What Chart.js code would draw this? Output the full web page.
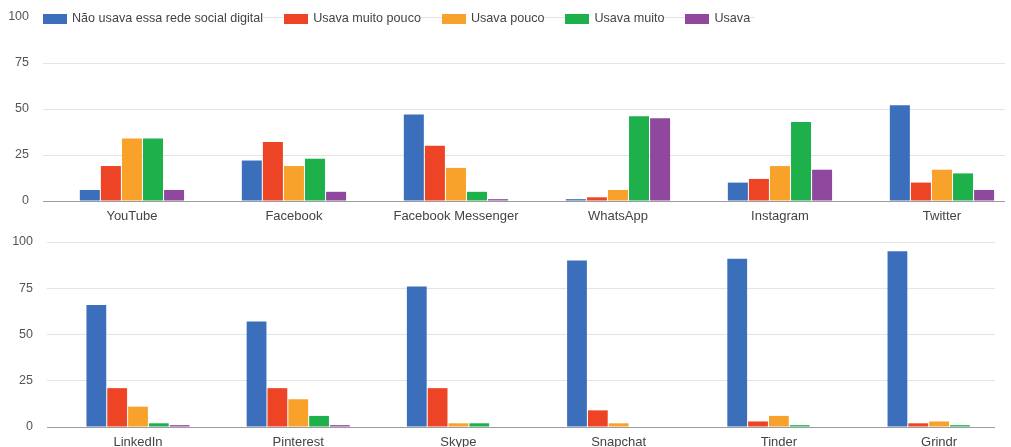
<!DOCTYPE html>
<html lang="pt">

<head>
    <meta charset="UTF-8">
    <title>Uso de redes sociais</title>
    <script src="https://cdn.jsdelivr.net/npm/chart.js"></script>
    <style>
        html, body { margin: 0; padding: 0; background: #fff; overflow: hidden; }
        body { width: 1011px; height: 447px; position: relative; font-family: "Liberation Sans", Arial, sans-serif; }
        .painel { position: absolute; left: 0; width: 1011px; }
        #painelTopo { top: 0; height: 228px; }
        #painelBaixo { top: 228px; height: 219px; }
        #legenda {
            position: absolute; left: 43px; top: 13px; height: 11px;
            display: flex; gap: 21px; padding-right: 5px;
            background: linear-gradient(#e4e4e4, #e4e4e4) no-repeat 0 4px / 100% 1px;
            font-size: 12.6px; color: #444; line-height: 11px;
        }
        #legenda .item { display: flex; align-items: center; background: #fff; white-space: nowrap; }
        #legenda .cor { width: 24px; height: 10px; margin-right: 5px; }
    </style>
</head>

<body>
    <div class="painel" id="painelTopo"><canvas id="graficoTopo"></canvas></div>
    <div class="painel" id="painelBaixo"><canvas id="graficoBaixo"></canvas></div>
    <div id="legenda"></div>

    <script>
        // dados
        const categoriasTopo = ['YouTube', 'Facebook', 'Facebook Messenger', 'WhatsApp', 'Instagram', 'Twitter']
        const categoriasBaixo = ['LinkedIn', 'Pinterest', 'Skype', 'Snapchat', 'Tinder', 'Grindr']
        const series = ['Não usava essa rede social digital', 'Usava muito pouco', 'Usava pouco', 'Usava muito', 'Usava']
        const cores = ['#3b6fbb', '#ec4424', '#f8a22c', '#1eb04b', '#8f489d']

        const naoUsavaTopo = [6, 22, 47, 1, 10, 52]
        const muitoPoucoTopo = [19, 32, 30, 2, 12, 10]
        const poucoTopo = [34, 19, 18, 6, 19, 17]
        const muitoTopo = [34, 23, 5, 46, 43, 15]
        const usavaTopo = [6, 5, 1, 45, 17, 6]

        const naoUsavaBaixo = [66, 57, 76, 90, 91, 95]
        const muitoPoucoBaixo = [21, 21, 21, 9, 3, 2]
        const poucoBaixo = [11, 15, 2, 2, 6, 3]
        const muitoBaixo = [2, 6, 2, 0, 1, 1]
        const usavaBaixo = [1, 1, 0, 0, 0, 0]

        const ticksY = [0, 25, 50, 75, 100]

        Chart.defaults.font.family = '"Liberation Sans", Arial, sans-serif'
        Chart.defaults.font.size = 12
        Chart.defaults.color = '#444'

        const legenda = document.getElementById('legenda')
        series.forEach((nome, i) => {
            const item = document.createElement('div')
            item.className = 'item'
            item.innerHTML = '<span class="cor" style="background:' + cores[i] + '"></span><span>' + nome + '</span>'
            legenda.appendChild(item)
        })

        const montar = (id, categorias, valores, cfg) => {
            const datasets = valores.map((serie, s) => ({
                label: series[s],
                data: serie.map((v, i) => ({ x: i, y: v })),
                backgroundColor: cores[s],
                categoryPercentage: 0.65,
                barPercentage: 0.95
            }))
            return new Chart(document.getElementById(id), {
                type: 'bar',
                data: { datasets: datasets },
                options: {
                    responsive: true,
                    maintainAspectRatio: false,
                    animation: false,
                    layout: { padding: { top: cfg.topo, right: cfg.direita, left: 0, bottom: 0 } },
                    plugins: { legend: { display: false }, tooltip: { enabled: false } },
                    scales: {
                        x: {
                            type: 'linear',
                            offset: false,
                            min: cfg.minX,
                            max: cfg.maxX,
                            grid: { display: false, offset: false },
                            border: { display: false },
                            afterBuildTicks: (eixo) => { eixo.ticks = categorias.map((c, i) => ({ value: i })) },
                            afterFit: (eixo) => { eixo.height = cfg.alturaX },
                            ticks: {
                                autoSkip: false, maxRotation: 0, padding: cfg.padX,
                                font: { size: 13 },
                                callback: (v) => categorias[v]
                            }
                        },
                        y: {
                            min: 0,
                            max: 100,
                            afterBuildTicks: (eixo) => { eixo.ticks = ticksY.map(v => ({ value: v })) },
                            afterFit: (eixo) => { eixo.width = cfg.larguraY },
                            border: { display: false },
                            grid: {
                                drawTicks: true,
                                tickLength: 14,
                                tickColor: 'rgba(0,0,0,0)',
                                color: (ctx) => {
                                    if (ctx.tick.value === 0) return '#9c9c9c'
                                    if (cfg.esconde100 && ctx.tick.value === 100) return 'rgba(0,0,0,0)'
                                    return '#e4e4e4'
                                }
                            },
                            ticks: { padding: 0, color: '#555', font: { size: 12.5 } }
                        }
                    }
                }
            })
        }

        montar('graficoTopo', categoriasTopo,
            [naoUsavaTopo, muitoPoucoTopo, poucoTopo, muitoTopo, usavaTopo],
            { topo: 17, direita: 6, minX: -0.549, maxX: 5.389, alturaX: 27, padX: 0, larguraY: 43, esconde100: true })

        montar('graficoBaixo', categoriasBaixo,
            [naoUsavaBaixo, muitoPoucoBaixo, poucoBaixo, muitoBaixo, usavaBaixo],
            { topo: 14, direita: 16, minX: -0.568, maxX: 5.349, alturaX: 20, padX: 0, larguraY: 47, esconde100: false })
    </script>
</body>

</html>
